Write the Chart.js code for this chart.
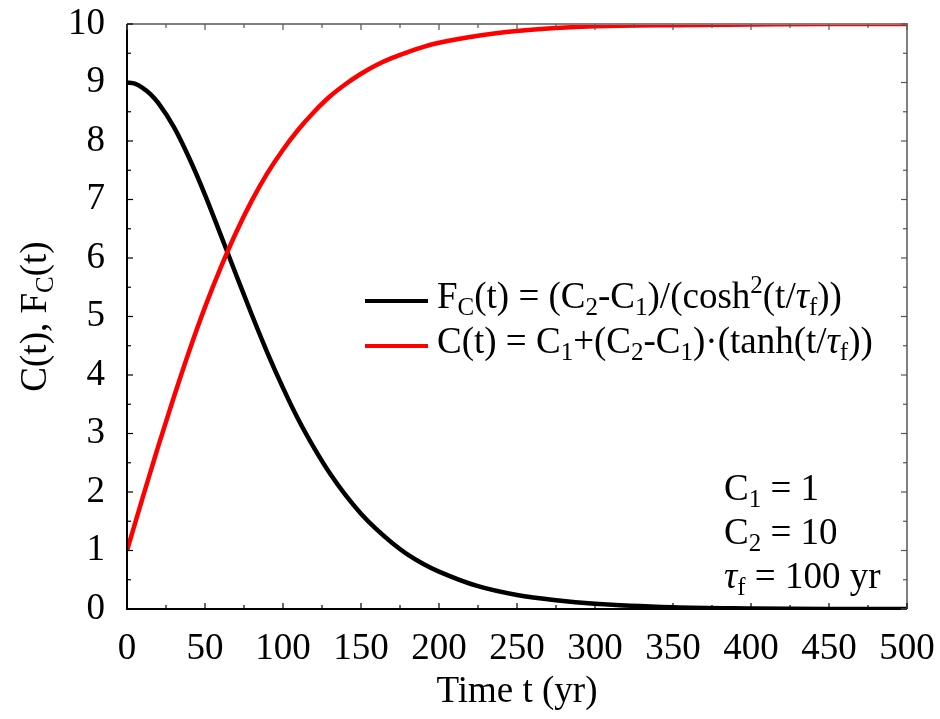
<!DOCTYPE html>
<html>
<head>
<meta charset="utf-8">
<script src="https://cdn.jsdelivr.net/npm/chart.js@4"></script>
<style>
  html, body { margin: 0; padding: 0; background: #fff; }
  #wrap { width: 940px; height: 719px; }
</style>
</head>
<body>
<div id="wrap"><canvas id="chart" width="940" height="719"></canvas></div>
<script>
// time axis (yr)
const tYears = [0, 5, 10, 15, 20, 30, 40, 50, 60, 70, 80, 90, 100, 110, 120, 130, 140, 150,
                160, 170, 180, 190, 200, 225, 250, 275, 300, 350, 400, 450, 500];
// F_C(t), black curve
const fluxVals = [9.00, 8.98, 8.91, 8.80, 8.65, 8.24, 7.70, 7.08, 6.40, 5.71, 5.03, 4.38, 3.78, 3.23,
                  2.75, 2.32, 1.95, 1.63, 1.36, 1.13, 0.93, 0.77, 0.64, 0.39, 0.24, 0.15,
                  0.09, 0.03, 0.01, 0.00, 0.00];
// C(t), red curve
const concVals = [1.00, 1.45, 1.90, 2.34, 2.78, 3.62, 4.42, 5.16, 5.83, 6.44, 6.98, 7.45, 7.85, 8.20,
                  8.50, 8.76, 8.97, 9.15, 9.30, 9.42, 9.52, 9.61, 9.68, 9.80, 9.88, 9.93,
                  9.96, 9.98, 9.99, 10.00, 10.00];
const xTicks = { min: 0, max: 500, step: 50, minor: 25 };
const yTicks = { min: 0, max: 10, step: 1, minor: 0.5 };

const SERIF = "'Liberation Serif', 'DejaVu Serif', serif";
const FS = 37, SUB = 25;

// draw a run of text pieces; pieces may be subscript, superscript or italic
function richText(ctx, x, y, parts) {
  ctx.textBaseline = 'alphabetic';
  ctx.textAlign = 'left';
  for (const p of parts) {
    const small = p.sub || p.sup;
    ctx.font = (p.it ? 'italic ' : '') + (small ? SUB : FS) + 'px ' + SERIF;
    const dy = p.sub ? 7 : p.sup ? -15 : 0;
    ctx.fillText(p.t, x, y + dy);
    x += ctx.measureText(p.t).width;
  }
  return x;
}
function richWidth(ctx, parts) {
  let w = 0;
  for (const p of parts) {
    const small = p.sub || p.sup;
    ctx.font = (p.it ? 'italic ' : '') + (small ? SUB : FS) + 'px ' + SERIF;
    w += ctx.measureText(p.t).width;
  }
  return w;
}

const legendRows = [
  { color: '#000000', parts: [{t: 'F'}, {t: 'C', sub: 1}, {t: '(t) = (C'}, {t: '2', sub: 1}, {t: '-C'},
    {t: '1', sub: 1}, {t: ')/(cosh'}, {t: '2', sup: 1}, {t: '(t/'}, {t: 'τ', it: 1}, {t: 'f', sub: 1}, {t: '))'}] },
  { color: '#ff0000', parts: [{t: 'C(t) = C'}, {t: '1', sub: 1}, {t: '+(C'}, {t: '2', sub: 1}, {t: '-C'},
    {t: '1', sub: 1}, {t: ')·(tanh(t/'}, {t: 'τ', it: 1}, {t: 'f', sub: 1}, {t: '))'}] }
];
const noteRows = [
  [{t: 'C'}, {t: '1', sub: 1}, {t: ' = 1'}],
  [{t: 'C'}, {t: '2', sub: 1}, {t: ' = 10'}],
  [{t: 'τ', it: 1}, {t: 'f', sub: 1}, {t: ' = 100 yr'}]
];

// frame with inward major/minor ticks, axis titles, legend and parameter notes
const decor = {
  id: 'decor',
  afterDatasetsDraw(chart) {
    const { ctx, chartArea: a, scales: { x, y } } = chart;
    ctx.save();
    // frame: grey top/right, black left/bottom
    ctx.lineWidth = 2;
    ctx.strokeStyle = '#808080';
    ctx.beginPath();
    ctx.moveTo(a.left, a.top); ctx.lineTo(a.right, a.top); ctx.lineTo(a.right, a.bottom);
    ctx.stroke();
    ctx.strokeStyle = '#000';
    ctx.beginPath();
    ctx.moveTo(a.left, a.top); ctx.lineTo(a.left, a.bottom); ctx.lineTo(a.right, a.bottom);
    ctx.stroke();
    // ticks
    ctx.lineWidth = 1.2;
    for (let v = xTicks.min; v <= xTicks.max; v += xTicks.minor) {
      const px = x.getPixelForValue(v);
      const len = v % xTicks.step === 0 ? 6 : 4;
      ctx.strokeStyle = '#000';
      ctx.beginPath(); ctx.moveTo(px, a.bottom); ctx.lineTo(px, a.bottom - len); ctx.stroke();
      ctx.strokeStyle = '#555';
      ctx.beginPath(); ctx.moveTo(px, a.top); ctx.lineTo(px, a.top + len); ctx.stroke();
    }
    for (let v = yTicks.min; v <= yTicks.max + 1e-9; v += yTicks.minor) {
      const py = y.getPixelForValue(v);
      const len = Math.abs(v - Math.round(v)) < 1e-9 ? 6 : 4;
      ctx.strokeStyle = '#000';
      ctx.beginPath(); ctx.moveTo(a.left, py); ctx.lineTo(a.left + len, py); ctx.stroke();
      ctx.strokeStyle = '#555';
      ctx.beginPath(); ctx.moveTo(a.right, py); ctx.lineTo(a.right - len, py); ctx.stroke();
    }
    ctx.fillStyle = '#000';
    // x title
    ctx.font = FS + 'px ' + SERIF;
    ctx.textAlign = 'center';
    ctx.textBaseline = 'alphabetic';
    ctx.fillText('Time t (yr)', (a.left + a.right) / 2, 702);
    // y title, rotated
    const yTitle = [{t: 'C(t), F'}, {t: 'C', sub: 1}, {t: '(t)'}];
    const w = richWidth(ctx, yTitle);
    ctx.save();
    ctx.translate(46, (a.top + a.bottom) / 2);
    ctx.rotate(-Math.PI / 2);
    richText(ctx, -w / 2, 0, yTitle);
    ctx.restore();
    // legend
    legendRows.forEach((row, i) => {
      const ly = 301 + i * 45;
      ctx.strokeStyle = row.color;
      ctx.lineWidth = 4;
      ctx.beginPath(); ctx.moveTo(365, ly); ctx.lineTo(428, ly); ctx.stroke();
      ctx.fillStyle = '#000';
      richText(ctx, 437, ly + 7, row.parts);
    });
    // parameters
    noteRows.forEach((parts, i) => richText(ctx, 724, 500 + i * 44, parts));
    ctx.restore();
  }
};

// pin the plot box: no label overhang padding
function noOverhang(s) {
  s.paddingTop = 0; s.paddingBottom = 0; s.paddingLeft = 0; s.paddingRight = 0;
}

new Chart(document.getElementById('chart').getContext('2d'), {
  type: 'line',
  data: {
    datasets: [
      {
        label: 'F_C(t)',
        data: tYears.map((t, i) => ({ x: t, y: fluxVals[i] })),
        borderColor: '#000000',
        borderWidth: 4.5,
        pointRadius: 0,
        cubicInterpolationMode: 'monotone',
        order: 2
      },
      {
        label: 'C(t)',
        data: tYears.map((t, i) => ({ x: t, y: concVals[i] })),
        borderColor: '#ff0000',
        borderWidth: 4.5,
        pointRadius: 0,
        cubicInterpolationMode: 'monotone',
        order: 1
      }
    ]
  },
  options: {
    responsive: false,
    animation: false,
    devicePixelRatio: 1,
    layout: { padding: { top: 24, right: 33, left: 0, bottom: 0 } },
    plugins: { legend: { display: false }, tooltip: { enabled: false } },
    scales: {
      x: {
        type: 'linear',
        min: xTicks.min, max: xTicks.max,
        border: { display: false },
        grid: { display: false, drawTicks: false },
        ticks: { stepSize: xTicks.step, color: '#000', padding: 18, maxRotation: 0,
                 font: { family: SERIF, size: FS } },
        afterFit: s => { s.height = 110; noOverhang(s); }
      },
      y: {
        min: yTicks.min, max: yTicks.max,
        border: { display: false },
        grid: { display: false, drawTicks: false },
        ticks: { stepSize: yTicks.step, color: '#000', padding: 22,
                 font: { family: SERIF, size: FS } },
        afterFit: s => { s.width = 127; noOverhang(s); }
      }
    }
  },
  plugins: [decor]
});
</script>
</body>
</html>
